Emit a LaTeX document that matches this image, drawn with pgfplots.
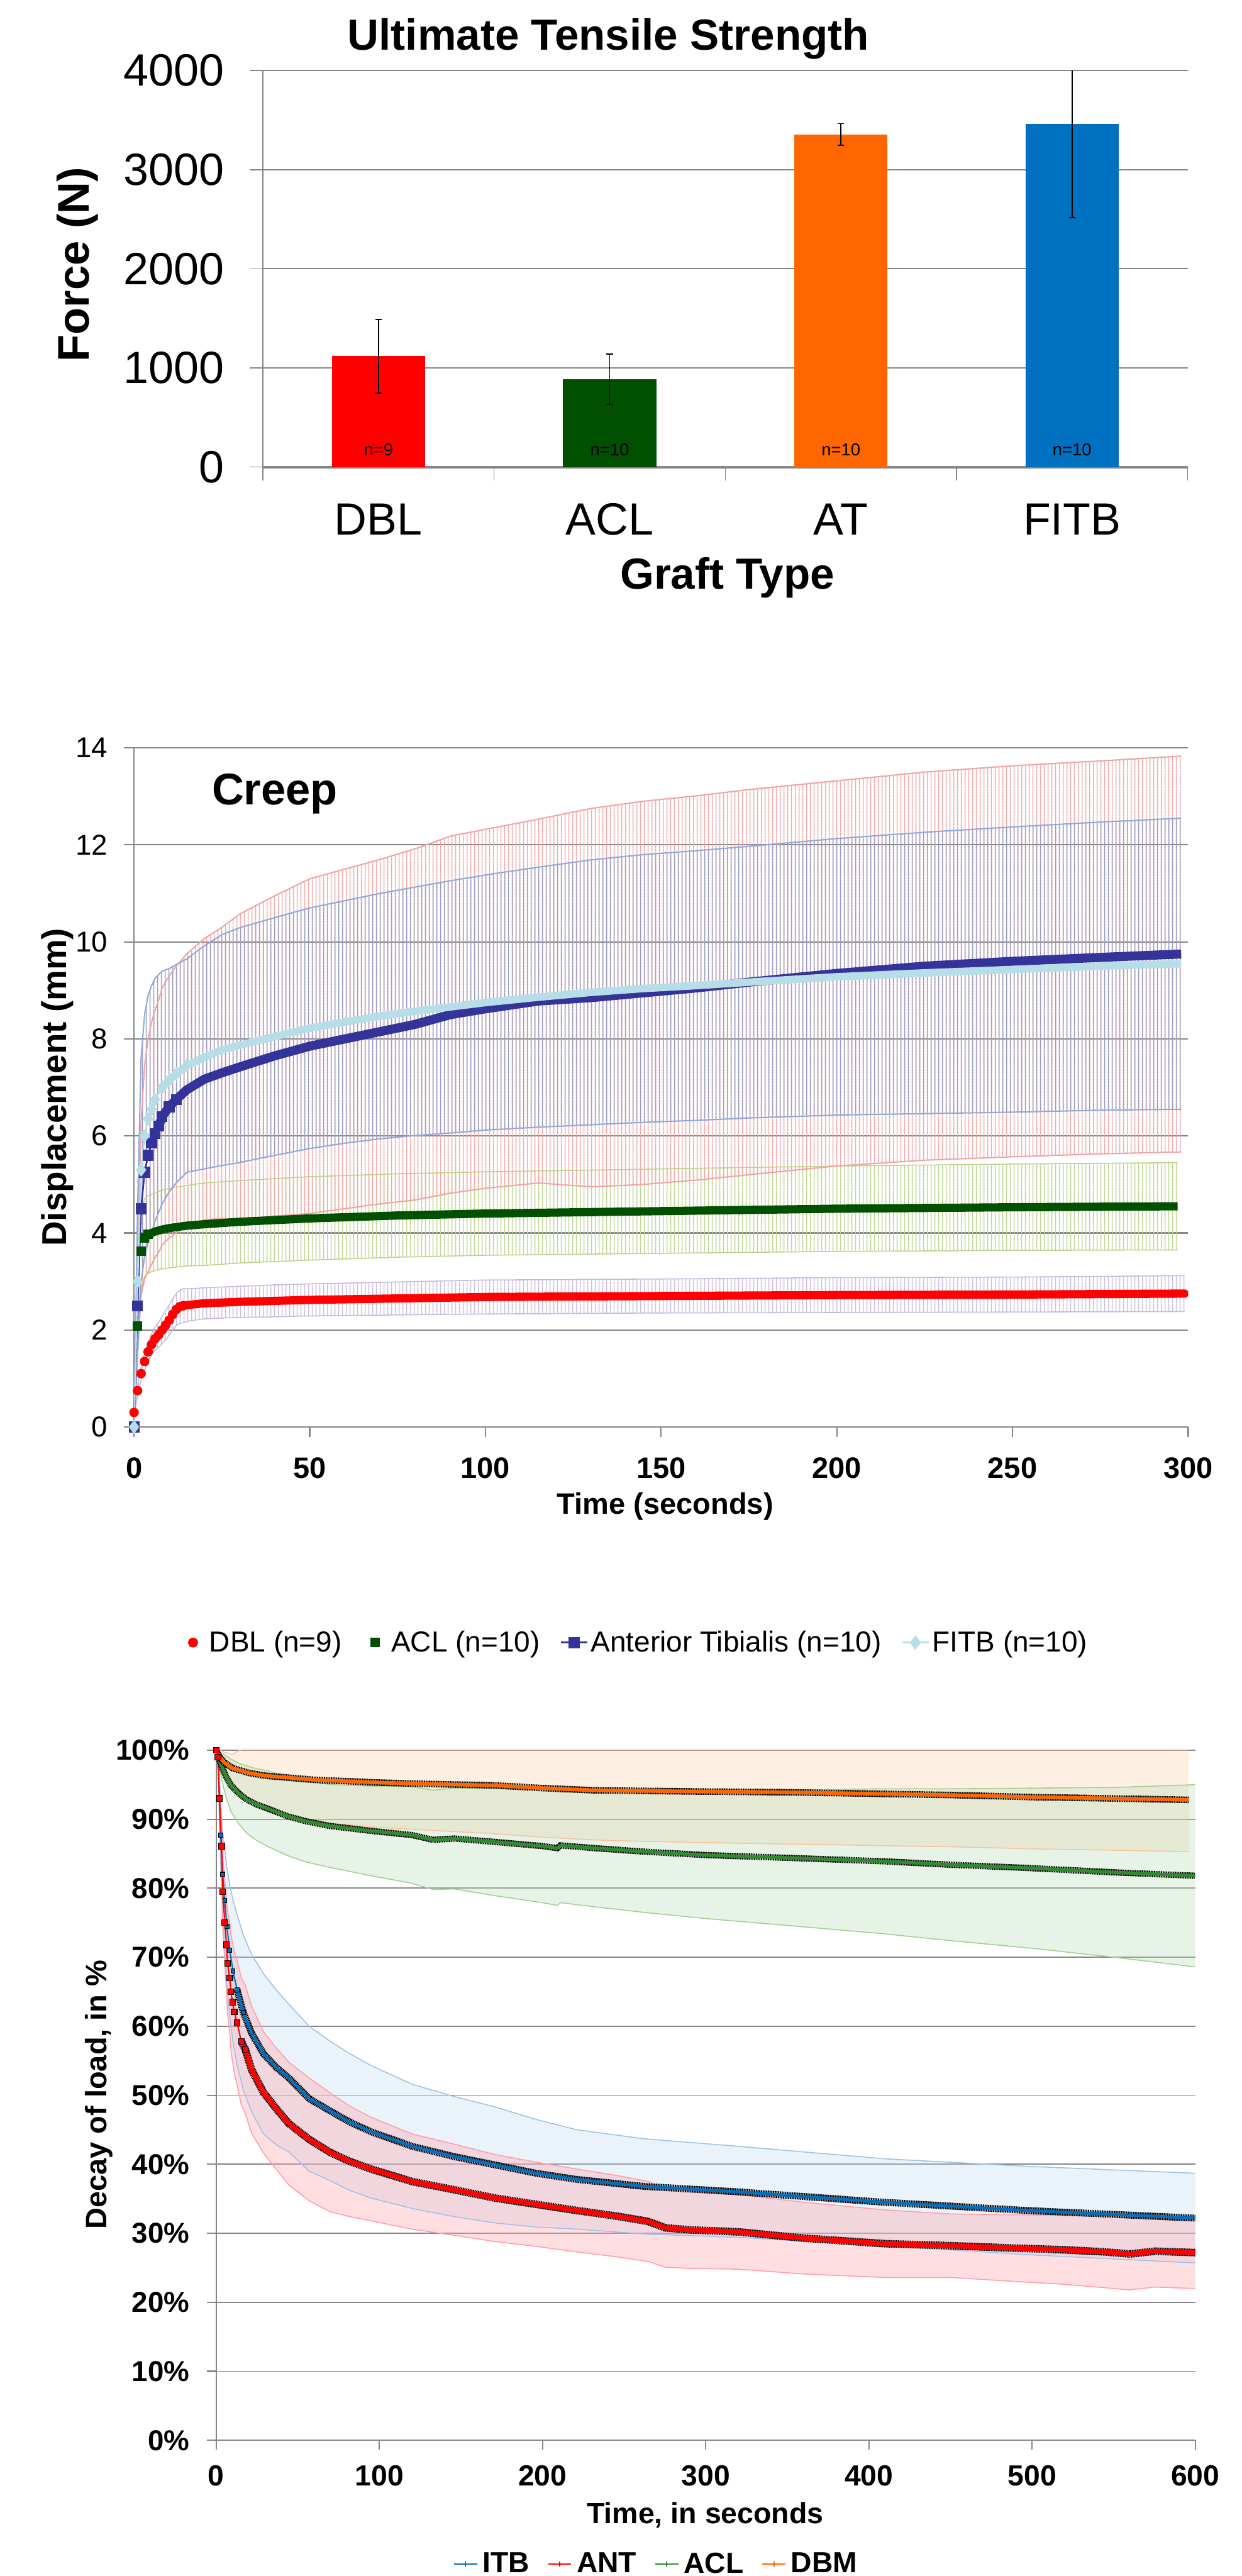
\documentclass[border=0pt]{standalone}
\usepackage{fontspec}
\setmainfont{Liberation Sans}
\usepackage{pgfplots}
\pgfplotsset{compat=1.18}
\usepackage{pgfplotstable}
\usepgfplotslibrary{fillbetween}
\usetikzlibrary{patterns}

% thin vertical stripes, one per ~second, like Excel's dense error bars
\pgfdeclarepatternformonly{errstripes}{\pgfqpoint{0pt}{0pt}}{\pgfqpoint{2.14pt}{2pt}}{\pgfqpoint{2.14pt}{2pt}}{%
  \pgfsetlinewidth{0.55pt}\pgfpathmoveto{\pgfqpoint{1.07pt}{0pt}}\pgfpathlineto{\pgfqpoint{1.07pt}{2pt}}\pgfusepath{stroke}}

\definecolor{gridc}{HTML}{868686}
\definecolor{DBLc}{HTML}{FF0000}
\definecolor{ACLc}{HTML}{005000}
\definecolor{ATc}{HTML}{FF6600}
\definecolor{FITBc}{HTML}{0070C0}
\definecolor{crAT}{HTML}{333399}
\definecolor{crFITB}{HTML}{B7DEE8}
\definecolor{eDBL}{HTML}{C8B8DE}
\definecolor{eACL}{HTML}{BCD28E}
\definecolor{eAT}{HTML}{F0A5A5}
\definecolor{eFITB}{HTML}{989ABF}
\definecolor{lFITB}{HTML}{8EAADB}
\definecolor{ITBc}{HTML}{0070C0}
\definecolor{ANTc}{HTML}{FF0000}
\definecolor{ACL3c}{HTML}{2E8B2E}
\definecolor{DBMc}{HTML}{FF6600}
\definecolor{bITB}{HTML}{BDD7EE}
\definecolor{bANT}{HTML}{FFA8B4}
\definecolor{bACL}{HTML}{B9DDB9}
\definecolor{bDBM}{HTML}{FAD3B0}
\definecolor{lITB}{HTML}{9DC3E6}
\definecolor{lANT}{HTML}{FF9FA8}
\definecolor{lACL}{HTML}{A3CF94}
\definecolor{lDBM}{HTML}{F8C49E}

% ---- creep data: time (s), displacement (mm), std dev
\pgfplotstableread{
t y e
0 0.30 0.05
1 0.75 0.10
2 1.10 0.15
3 1.35 0.18
4 1.55 0.20
5 1.70 0.22
6 1.82 0.24
7 1.90 0.26
8 2.00 0.28
9 2.10 0.30
10 2.20 0.31
11 2.32 0.32
12 2.42 0.33
13 2.48 0.34
14 2.50 0.35
16 2.52 0.33
20 2.55 0.32
30 2.58 0.32
40 2.60 0.33
50 2.62 0.33
75 2.65 0.34
100 2.68 0.35
150 2.70 0.35
200 2.72 0.36
250 2.73 0.36
299 2.75 0.37
}\crDBL
\pgfplotstableread{
t y e
0 0.00 0.00
1 2.08 0.50
2 3.62 0.80
3 3.90 0.80
4 3.97 0.80
6 4.03 0.80
8 4.07 0.81
10 4.10 0.82
15 4.15 0.83
20 4.18 0.85
30 4.23 0.85
50 4.30 0.86
75 4.36 0.86
100 4.40 0.86
150 4.45 0.87
200 4.50 0.88
250 4.53 0.89
297 4.55 0.90
}\crACL
\pgfplotstableread{
t y e
0 0.00 0.00
1 2.50 1.00
2 4.50 1.80
3 5.25 2.20
4 5.60 2.40
5 5.85 2.50
6 6.05 2.55
7 6.20 2.60
8 6.40 2.65
10 6.60 2.70
12 6.75 2.75
15 6.95 2.80
20 7.17 2.90
25 7.30 3.00
30 7.42 3.15
40 7.65 3.30
50 7.85 3.45
60 8.00 3.50
70 8.15 3.55
80 8.30 3.62
90 8.50 3.68
100 8.62 3.70
115 8.78 3.75
130 8.85 3.90
145 8.95 3.95
160 9.05 3.96
175 9.17 3.97
200 9.35 3.97
225 9.50 4.00
250 9.60 4.03
275 9.68 4.05
298 9.75 4.08
}\crAT
\pgfplotstableread{
t y e
0 0.00 0.00
1 3.00 1.50
2 5.30 2.30
3 6.00 2.50
4 6.35 2.55
5 6.55 2.55
6 6.75 2.50
8 7.00 2.40
10 7.15 2.30
12 7.28 2.25
15 7.45 2.20
20 7.62 2.30
25 7.77 2.38
30 7.87 2.42
40 8.05 2.45
50 8.22 2.48
60 8.35 2.50
70 8.47 2.53
80 8.57 2.56
90 8.66 2.60
100 8.75 2.63
115 8.86 2.68
130 8.96 2.73
145 9.04 2.76
160 9.10 2.78
175 9.17 2.80
200 9.28 2.85
225 9.36 2.90
250 9.43 2.94
275 9.50 2.97
298 9.55 3.00
}\crFITB

% ---- load decay data: time (s), percent of initial load, std dev
\pgfplotstableread{
t y e
0 100 0
1 99 0.5
2 93 3
2.7 87.7 4
4 82 6
5.3 78.2 7.5
6.5 74.5 8.5
8.3 71 9.5
10.3 68 10.3
12.8 65.3 10.9
16.6 62 11.2
21.7 59 11.4
29 56 11.6
37 54 11.2
44.5 52.5 10.7
57 49.5 10.5
70 47.7 10.1
82 46.1 9.9
95 44.7 9.6
120 42.6 9.0
146 41.1 8.7
171 39.9 8.4
196 38.7 7.8
221 37.8 7.2
262 36.8 6.9
320 36.0 6.6
409 34.5 6.3
497 33.3 6.4
600 32.2 6.5
}\dITB
\pgfplotstableread{
t y e
0 100 0
1 99 0.5
2 93 2.5
3.3 86.1 4
4 79.5 5
5.3 75 6
6.3 71.8 6.8
7 69.1 7.5
8.3 67 8
9 65 8.3
10 63.5 8.6
11 62.1 8.8
12.8 60.5 9
15.4 57.8 9.2
17.9 56.6 9.3
21.7 53.7 9.2
29 50.4 8.8
37 48 8.8
44.5 45.9 8.9
57 43.6 8.9
70 41.7 8.6
82 40.4 8.0
95 39.3 7.5
120 37.5 6.9
146 36.3 6.6
171 35.1 6.3
196 34.2 6.1
221 33.3 6.0
245 32.5 5.9
265 31.7 5.8
275 30.8 5.7
290 30.5 5.6
320 30.2 5.4
360 29.3 5.2
409 28.5 4.9
450 28.2 4.6
484 27.9 4.8
520 27.6 5.0
545 27.3 5.2
560 27.0 5.2
575 27.4 5.2
600 27.2 5.2
}\dANT
\pgfplotstableread{
t y e
0 100 0
2 98.5 1.2
4 97.3 2.2
6 96.2 3
9 94.9 3.8
14 93.7 4.4
19 92.8 4.9
25 92.1 5.2
32 91.5 5.5
44 90.4 5.7
55 89.7 5.9
70 89.0 6.0
95 88.3 6.5
120 87.7 7.0
133 87.0 7.2
146 87.2 7.3
171 86.7 7.8
200 86.1 8.2
209 85.8 8.3
211 86.2 8.3
232 85.8 8.5
262 85.3 8.8
300 84.8 9.2
350 84.4 9.8
409 83.9 10.5
450 83.4 11.0
500 82.9 11.6
550 82.3 12.3
600 81.8 13.2
}\dACL
\pgfplotstableread{
t y e
0 100 0
2 99.0 1
5 98.2 1.5
10 97.4 2
20 96.7 4
30 96.3 5
45 96.0 5.6
60 95.7 6
80 95.5 6.3
100 95.3 6.5
130 95.1 6.7
170 94.9 7
200 94.5 7.1
230 94.2 7.2
260 94.1 7.3
300 94.0 7.4
350 93.9 7.5
400 93.7 7.5
450 93.5 7.5
500 93.2 7.5
550 93.0 7.5
596 92.8 7.5
}\dDBM

\begin{document}
\begin{tikzpicture}

% =================== Ultimate tensile strength ===================
\begin{axis}[
  at={(160pt,-284.3pt)}, anchor=south west,
  scale only axis, width=563pt, height=241.4pt,
  ybar, bar width=56.7pt, bar shift=0pt,
  xmin=-0.5, xmax=3.5, ymin=0, ymax=4000,
  axis x line*=bottom, axis y line*=left,
  axis line style={draw=gridc,-},
  x axis line style={line width=1.6pt},
  y axis line style={line width=0.6pt},
  xtick={-0.5,0.5,1.5,2.5,3.5}, xticklabels={,,,,},
  extra x ticks={0,1,2,3}, extra x tick labels={DBL,ACL,AT,FITB},
  extra x tick style={tick style={draw=none}},
  ytick={0,1000,2000,3000,4000},
  ymajorgrids, grid style={draw=gridc, line width=0.8pt},
  tick align=inside, major tick length=-8pt,
  tick style={draw=gridc, line width=0.6pt},
  /pgf/number format/assume math mode=true,
  /pgf/number format/1000 sep={},
  yticklabel style={anchor=east, inner sep=0pt, xshift=-23.3pt, font=\fontsize{27.5}{31}\selectfont},
  xticklabel style={anchor=base, inner sep=0pt, yshift=-41.4pt, font=\fontsize{27.5}{31}\selectfont},
  error bars/y dir=both, error bars/y explicit,
  error bars/error bar style={black, line width=0.6pt},
  error bars/error mark options={black, rotate=90, mark size=2pt, line width=0.6pt},
]
\addplot[fill=DBLc, draw=none] coordinates {(0,1118) +- (0,370)};
\addplot[fill=ACLc, draw=none] coordinates {(1,885) +- (0,255)};
\addplot[fill=ATc, draw=none] coordinates {(2,3355) +- (0,110)};
\addplot[fill=FITBc, draw=none] coordinates {(3,3460) +- (0,943)};
\node[anchor=base, font=\fontsize{10.5}{12}\selectfont] at (axis cs:0,113) {n=9};
\node[anchor=base, font=\fontsize{10.5}{12}\selectfont] at (axis cs:1,113) {n=10};
\node[anchor=base, font=\fontsize{10.5}{12}\selectfont] at (axis cs:2,113) {n=10};
\node[anchor=base, font=\fontsize{10.5}{12}\selectfont] at (axis cs:3,113) {n=10};
\end{axis}
\node[anchor=base, font=\bfseries\fontsize{26.5}{30}\selectfont] at (370.3pt,-30.5pt) {Ultimate Tensile Strength};
\node[anchor=base, font=\bfseries\fontsize{26.5}{30}\selectfont] at (442.8pt,-358.6pt) {Graft Type};
\node[anchor=base, rotate=90, font=\bfseries\fontsize{27}{30}\selectfont] at (54.3pt,-161pt) {Force (N)};

% =================== Creep ===================
\begin{axis}[
  at={(81.6pt,-868.6pt)}, anchor=south west,
  scale only axis, width=641.7pt, height=413.4pt,
  xmin=0, xmax=300, ymin=0, ymax=14,
  axis x line*=bottom, axis y line*=left,
  axis line style={draw=gridc, -, line width=0.8pt},
  xtick={0,50,...,300}, ytick={0,2,...,14},
  ymajorgrids, grid style={draw=gridc, line width=0.8pt},
  tick align=inside, major tick length=-6pt,
  tick style={draw=gridc, line width=0.8pt},
  /pgf/number format/assume math mode=true,
  yticklabel style={anchor=east, inner sep=0pt, xshift=-15.8pt, font=\fontsize{17.5}{20}\selectfont},
  xticklabel style={anchor=base, inner sep=0pt, yshift=-31pt, font=\bfseries\fontsize{18}{21}\selectfont},
  legend columns=4,
  legend style={at={(0.0432,-0.3174)}, anchor=west, draw=none, fill=none,
    inner sep=0pt, outer sep=0pt, nodes={inner sep=0pt, outer sep=0pt},
    font=\fontsize{17.6}{20}\selectfont,
    /tikz/every odd column/.append style={column sep=1.7pt},
    /tikz/every even column/.append style={column sep=12pt}},
  legend image code/.code={\path (-8pt,0pt) (8pt,0pt);
    \draw[mark repeat=2, mark phase=2, #1] plot coordinates {(-8pt,0pt) (0pt,0pt) (8pt,0pt)};},
]
\addlegendimage{DBLc, only marks, mark=*, mark size=2.8pt}
\addlegendentry{DBL (n=9)}
\addlegendimage{ACLc, only marks, mark=square*, mark size=2.6pt}
\addlegendentry{ACL (n=10)}
\addlegendimage{crAT, line width=1.3pt, mark=square*, mark size=2.8pt}
\addlegendentry{Anterior Tibialis (n=10)}
\addlegendimage{crFITB, line width=1.3pt, mark=diamond*, mark size=3.4pt}
\addlegendentry{FITB (n=10)}

% error envelopes
\addplot[name path=dhi, eDBL, line width=0.6pt, forget plot] table[x=t, y expr=\thisrow{y}+\thisrow{e}] {\crDBL};
\addplot[name path=dlo, eDBL, line width=0.6pt, forget plot] table[x=t, y expr=\thisrow{y}-\thisrow{e}] {\crDBL};
\addplot[pattern=errstripes, pattern color=eDBL, draw=none, forget plot] fill between[of=dhi and dlo];
\addplot[name path=ahi, eACL, line width=0.6pt, forget plot] table[x=t, y expr=\thisrow{y}+\thisrow{e}] {\crACL};
\addplot[name path=alo, eACL, line width=0.6pt, forget plot] table[x=t, y expr=\thisrow{y}-\thisrow{e}] {\crACL};
\addplot[pattern=errstripes, pattern color=eACL, draw=none, forget plot] fill between[of=ahi and alo];
\addplot[name path=thi, eAT, line width=0.8pt, forget plot] table[x=t, y expr=\thisrow{y}+\thisrow{e}] {\crAT};
\addplot[name path=tlo, eAT, line width=0.8pt, forget plot] table[x=t, y expr=\thisrow{y}-\thisrow{e}] {\crAT};
\addplot[pattern=errstripes, pattern color=eAT, draw=none, forget plot] fill between[of=thi and tlo];
\addplot[name path=fhi, lFITB, line width=0.8pt, forget plot] table[x=t, y expr=\thisrow{y}+\thisrow{e}] {\crFITB};
\addplot[name path=flo, lFITB, line width=0.8pt, forget plot] table[x=t, y expr=\thisrow{y}-\thisrow{e}] {\crFITB};
\addplot[pattern=errstripes, pattern color=eFITB, draw=none, forget plot] fill between[of=fhi and flo];

% means
\addplot[DBLc, only marks, mark=*, mark size=2.7pt, forget plot, restrict x to domain=0:14] table[x=t, y=y] {\crDBL};
\addplot[DBLc, line width=5pt, line cap=round, forget plot, restrict x to domain=13:300] table[x=t, y=y] {\crDBL};
\addplot[ACLc, only marks, mark=square*, mark size=2.6pt, forget plot, restrict x to domain=0:4] table[x=t, y=y] {\crACL};
\addplot[ACLc, line width=5pt, forget plot, restrict x to domain=3:300] table[x=t, y=y] {\crACL};
\addplot[crAT, line width=1pt, mark=square*, mark size=2.8pt, forget plot, restrict x to domain=0:12] table[x=t, y=y] {\crAT};
\addplot[crAT, line width=5.5pt, forget plot, restrict x to domain=7:300] table[x=t, y=y] {\crAT};
\addplot[crFITB, line width=1pt, mark=diamond*, mark size=3.4pt, forget plot, restrict x to domain=0:15] table[x=t, y=y] {\crFITB};
\addplot[crFITB, line width=4.6pt, forget plot, restrict x to domain=8:300] table[x=t, y=y] {\crFITB};
\end{axis}
\node[anchor=base, font=\bfseries\fontsize{27}{30}\selectfont] at (167.3pt,-489.9pt) {Creep};
\node[anchor=base, font=\bfseries\fontsize{18}{21}\selectfont] at (404.9pt,-921.8pt) {Time (seconds)};
\node[anchor=base, rotate=90, font=\bfseries\fontsize{21}{24}\selectfont] at (40.2pt,-661.8pt) {Displacement (mm)};

% =================== Stress relaxation ===================
\begin{axis}[
  at={(131.6pt,-1485.4pt)}, anchor=south west,
  scale only axis, width=596pt, height=420.1pt,
  xmin=0, xmax=600, ymin=0, ymax=100,
  axis x line*=bottom, axis y line*=left,
  axis line style={draw=gridc, -, line width=0.8pt},
  xtick={0,100,...,600}, ytick={0,10,...,100},
  yticklabel={\pgfmathprintnumber{\tick}\%},
  ymajorgrids, grid style={draw=gridc, line width=0.7pt},
  tick align=inside, major tick length=-5.5pt,
  tick style={draw=gridc, line width=0.8pt},
  /pgf/number format/assume math mode=true,
  yticklabel style={anchor=east, inner sep=0pt, xshift=-16.1pt, font=\bfseries\fontsize{17.5}{20}\selectfont},
  xticklabel style={anchor=base, inner sep=0pt, yshift=-27.5pt, font=\bfseries\fontsize{17.7}{20}\selectfont},
  legend columns=4,
  legend style={at={(0.2423,-0.1792)}, anchor=west, draw=none, fill=none,
    inner sep=0pt, outer sep=0pt, nodes={inner sep=0pt, outer sep=0pt},
    font=\bfseries\fontsize{17.7}{20}\selectfont,
    /tikz/every odd column/.append style={column sep=3pt},
    /tikz/every even column/.append style={column sep=11pt}},
  legend image code/.code={\path (0pt,0pt) (14pt,0pt);
    \draw[mark repeat=2, mark phase=2, #1] plot coordinates {(0pt,0pt) (7pt,0pt) (14pt,0pt)};},
]
\addlegendimage{ITBc, line width=0.8pt, mark=+, mark size=1.6pt}
\addlegendentry{ITB}
\addlegendimage{ANTc, line width=0.8pt, mark=+, mark size=1.6pt}
\addlegendentry{ANT}
\addlegendimage{ACL3c, line width=0.8pt, mark=+, mark size=1.6pt}
\addlegendentry{ACL}
\addlegendimage{DBMc, line width=0.8pt, mark=+, mark size=1.6pt}
\addlegendentry{DBM}

% error bands
\addplot[name path=mhi, lDBM, line width=0.6pt, forget plot] table[x=t, y expr=\thisrow{y}+\thisrow{e}] {\dDBM};
\addplot[name path=mlo, lDBM, line width=0.6pt, forget plot] table[x=t, y expr=\thisrow{y}-\thisrow{e}] {\dDBM};
\addplot[fill=bDBM, fill opacity=0.35, draw=none, forget plot] fill between[of=mhi and mlo];
\addplot[name path=chi, lACL, line width=0.6pt, forget plot] table[x=t, y expr=\thisrow{y}+\thisrow{e}] {\dACL};
\addplot[name path=clo, lACL, line width=0.6pt, forget plot] table[x=t, y expr=\thisrow{y}-\thisrow{e}] {\dACL};
\addplot[fill=bACL, fill opacity=0.35, draw=none, forget plot] fill between[of=chi and clo];
\addplot[name path=ihi, lITB, line width=0.6pt, forget plot] table[x=t, y expr=\thisrow{y}+\thisrow{e}] {\dITB};
\addplot[name path=ilo, lITB, line width=0.6pt, forget plot] table[x=t, y expr=\thisrow{y}-\thisrow{e}] {\dITB};
\addplot[fill=bITB, fill opacity=0.32, draw=none, forget plot] fill between[of=ihi and ilo];
\addplot[name path=nhi, lANT, line width=0.6pt, forget plot] table[x=t, y expr=\thisrow{y}+\thisrow{e}] {\dANT};
\addplot[name path=nlo, lANT, line width=0.6pt, forget plot] table[x=t, y expr=\thisrow{y}-\thisrow{e}] {\dANT};
\addplot[fill=bANT, fill opacity=0.38, draw=none, forget plot] fill between[of=nhi and nlo];

% means; the dashed black underlay stands for the dense black x error caps of the original
\addplot[ITBc, line width=0.8pt, mark=square*, mark size=1.3pt, mark options={draw=black, fill=ITBc, line width=0.4pt}, forget plot, restrict x to domain=0:17] table[x=t, y=y] {\dITB};
\addplot[black, line width=4.2pt, dash pattern=on 0.7pt off 0.35pt, forget plot, restrict x to domain=12:600] table[x=t, y=y] {\dITB};
\addplot[ITBc, line width=1.8pt, forget plot, restrict x to domain=12:600] table[x=t, y=y] {\dITB};
\addplot[ANTc, line width=0.8pt, mark=square*, mark size=1.8pt, mark options={draw=black, fill=ANTc, line width=0.4pt}, forget plot, restrict x to domain=0:18] table[x=t, y=y] {\dANT};
\addplot[black, line width=4.6pt, dash pattern=on 0.7pt off 0.35pt, forget plot, restrict x to domain=15:600] table[x=t, y=y] {\dANT};
\addplot[ANTc, line width=3pt, forget plot, restrict x to domain=15:600] table[x=t, y=y] {\dANT};
\addplot[black, line width=3.8pt, dash pattern=on 0.7pt off 0.35pt, forget plot] table[x=t, y=y] {\dACL};
\addplot[ACL3c, line width=2pt, forget plot] table[x=t, y=y] {\dACL};
\addplot[black, line width=4pt, dash pattern=on 0.7pt off 0.35pt, forget plot] table[x=t, y=y] {\dDBM};
\addplot[DBMc, line width=2.2pt, forget plot] table[x=t, y=y] {\dDBM};
\end{axis}
\node[anchor=base, font=\bfseries\fontsize{17.8}{20}\selectfont] at (429.3pt,-1535.9pt) {Time, in seconds};
\node[anchor=base, rotate=90, font=\bfseries\fontsize{18}{21}\selectfont] at (64.8pt,-1275pt) {Decay of load, in \%};

% page = the reference canvas
\pgfresetboundingbox
\path[use as bounding box] (0pt,0pt) rectangle (756pt,-1568pt);
\end{tikzpicture}
\end{document}
